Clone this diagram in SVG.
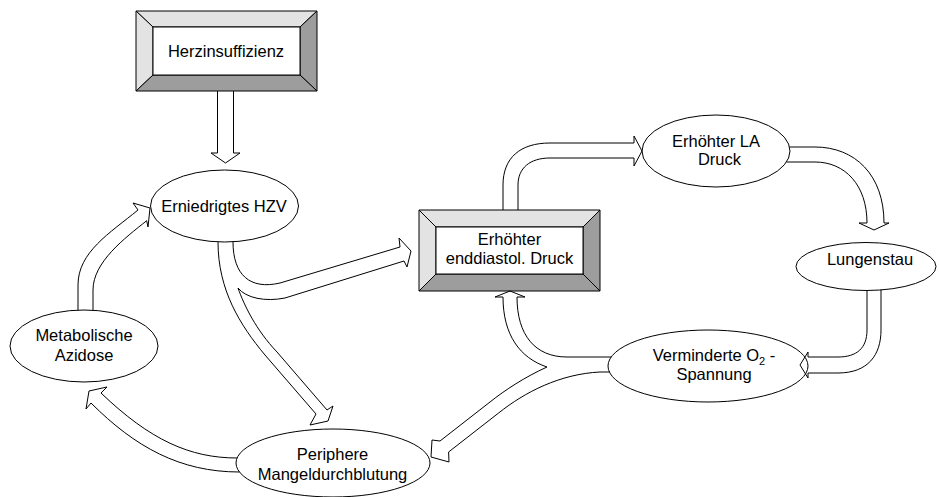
<svg xmlns="http://www.w3.org/2000/svg" width="939" height="497" viewBox="0 0 939 497">
<style>
  .bg{fill:#fff}
  .ell{fill:#fff;stroke:#000;stroke-width:1}
  .lt{fill:#e3e3e3;stroke:#000;stroke-width:1;stroke-linejoin:miter}
  .dk{fill:#9d9d9d;stroke:#000;stroke-width:1;stroke-linejoin:miter}
  .inner{fill:#fff;stroke:#000;stroke-width:1}
  .conn path{fill:none;stroke:#000;stroke-width:1;stroke-linejoin:miter}
  text{font-family:"Liberation Sans",Arial,sans-serif;font-size:16.5px;fill:#000;text-anchor:middle}
</style>
<rect class="bg" x="0" y="0" width="939" height="497"/>

<g id="herzinsuffizienz">
  <polygon class="lt" points="136,11 317,11 300,27 153,27"/>
  <polygon class="lt" points="136,11 153,27 153,75 136,91"/>
  <polygon class="dk" points="317,11 317,91 300,75 300,27"/>
  <polygon class="dk" points="136,91 153,75 300,75 317,91"/>
  <rect class="inner" x="153" y="27" width="147" height="48"/>
  <text x="226" y="57">Herzinsuffizienz</text>
</g>

<g id="erhoehter-enddiastol-druck">
  <polygon class="lt" points="419,210 600,210 583,227 436,227"/>
  <polygon class="lt" points="419,210 436,227 436,274 419,291"/>
  <polygon class="dk" points="600,210 600,291 583,274 583,227"/>
  <polygon class="dk" points="419,291 436,274 583,274 600,291"/>
  <rect class="inner" x="436" y="227" width="147" height="47"/>
  <text x="509.5" y="245">Erhöhter</text>
  <text x="509.5" y="264">enddiastol. Druck</text>
</g>

<g id="erniedrigtes-hzv">
  <ellipse class="ell" cx="224.5" cy="206" rx="74" ry="36"/>
  <text x="224" y="212">Erniedrigtes HZV</text>
</g>

<g id="erhoehter-la-druck">
  <ellipse class="ell" cx="716" cy="151" rx="74" ry="36"/>
  <text x="716" y="147">Erhöhter LA</text>
  <text x="719.5" y="165">Druck</text>
</g>

<g id="lungenstau">
  <ellipse class="ell" cx="866" cy="266.5" rx="70" ry="24"/>
  <text x="870" y="265">Lungenstau</text>
</g>

<g id="verminderte-o2-spannung">
  <ellipse class="ell" cx="708" cy="366" rx="100" ry="36"/>
  <text x="714" y="361">Verminderte O<tspan font-size="11px" dy="4">2</tspan><tspan dy="-4"> -</tspan></text>
  <text x="714" y="380">Spannung</text>
</g>

<g id="metabolische-azidose">
  <ellipse class="ell" cx="84" cy="346" rx="74" ry="36"/>
  <text x="84" y="341">Metabolische</text>
  <text x="84" y="361">Azidose</text>
</g>

<g id="periphere-mangeldurchblutung">
  <ellipse class="ell" cx="333" cy="463" rx="97" ry="34"/>
  <text x="332.5" y="460">Periphere</text>
  <text x="332.5" y="480">Mangeldurchblutung</text>
</g>

<g id="connectors" class="conn">
  <!-- Herzinsuffizienz -> Erniedrigtes HZV -->
  <path d="M217.5,91 L217.5,153 L211,153 L225.5,163 L240,153 L233.5,153 L233.5,91"/>
  <!-- HZV -> Erhoehter enddiastol. Druck, HZV -> Periphere -->
  <path d="M233,241.8 C233,275 250,290 280,283 L400,247 L399,238 L411,251 L407,267 L404,261 L285,298 C265,302 246,298 238,288 C244,305 256,330 277,352 L327,410 L333,406 L328,421 L310,425 L316,414 L265,355 C240,325 218,290 218,241.9"/>
  <!-- Metabolische Azidose -> HZV -->
  <path d="M78,310.2 L78,285 C78,252 110,233 138,210 L133,203 L150,208 L148,227 L146.7,220.7 C125,238 93,262 93,290 L93,310.3"/>
  <!-- Periphere -> Metabolische Azidose -->
  <path d="M237.1,458 C190,458 150,440 101,393 L107,387 L89,391 L86,409 L91,403 C135,447 180,472 239.5,472"/>
  <!-- Erhoehter enddiastol. Druck -> Erhoehter LA Druck -->
  <path d="M503,210 L503,185 C503,158 520,143 550,143 L634,143 L634,136 L642,151 L634,166 L634,158 L550,158 C530,158 518,168 518,185 L518,210"/>
  <!-- Erhoehter LA Druck -> Lungenstau -->
  <path d="M789.5,147 L815,147 C855,147 884,175 884,223 L889,223 L874,230 L859,223 L867,223 C867,185 845,162 815,162 L786.5,162"/>
  <!-- Lungenstau -> Verminderte O2 -->
  <path d="M867,290.4 L867,330 C867,348 857,357 838,357 L808,357 L808,352 L800,365 L808,378 L808,373 L838,373 C868,373 881,355 881,330 L881,289.6"/>
  <!-- Verminderte O2 -> Erhoehter enddiastol. Druck, Verminderte O2 -> Periphere -->
  <path d="M611.2,357 L567,357 C535,357 517,335 517,297 L525,297 L510,291 L495,297 L503,297 C503,335 520,358 547,367 C525,377 505,390 490,402 L440,441 L432,440 L431,457 L449,462 L448.6,452 L498.6,413 C525,392 560,374 600,372 L609.4,372"/>
</g>
</svg>
